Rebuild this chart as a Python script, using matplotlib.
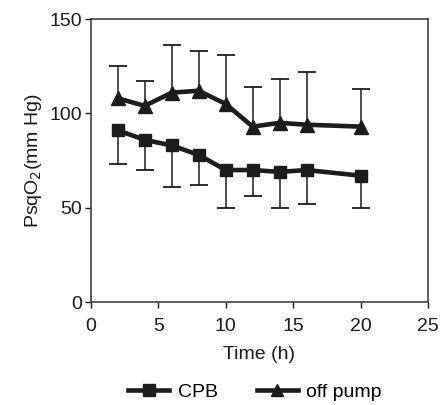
import matplotlib
matplotlib.use("Agg")
import matplotlib.pyplot as plt
from matplotlib.lines import Line2D

plt.rcParams["font.family"] = ["Liberation Sans", "DejaVu Sans"]

# time points (h)
time_h = [2, 4, 6, 8, 10, 12, 14, 16, 20]

# CPB: mean and lower end of error bar
cpb_mean = [91, 86, 83, 78, 70, 70, 69, 70, 67]
cpb_low = [73, 70, 61, 62, 50, 56, 50, 52, 50]

# off pump: mean and upper end of error bar
off_mean = [108, 104, 111, 112, 105, 93, 95, 94, 93]
off_high = [125, 117, 136, 133, 131, 114, 118, 122, 113]

x_ticks = [0, 5, 10, 15, 20, 25]
y_ticks = [0, 50, 100, 150]

ink = "#1c1c1c"
fs = 14

fig = plt.figure(figsize=(4.43, 4.05), dpi=100)
ax = fig.add_axes([0.205, 0.254, 0.761, 0.699])

# one-sided error bars: down for CPB, up for off pump
ax.vlines(time_h, cpb_low, cpb_mean, color=ink, lw=1.1, zorder=2)
ax.plot(time_h, cpb_low, ls="none", marker="_", ms=13, mew=1.3, color=ink, zorder=2)
ax.vlines(time_h, off_mean, off_high, color=ink, lw=1.1, zorder=2)
ax.plot(time_h, off_high, ls="none", marker="_", ms=13, mew=1.3, color=ink, zorder=2)

ax.plot(time_h, cpb_mean, color=ink, lw=3.3, marker="s", ms=9, zorder=3)
ax.plot(time_h, off_mean, color=ink, lw=3.3, marker="^", ms=10, zorder=3)

ax.set_xlim(0, 25)
ax.set_ylim(0, 150)
ax.set_xticks(x_ticks)
ax.set_yticks(y_ticks)
ax.tick_params(direction="out", length=4.5, width=1, labelsize=fs,
               colors=ink)
ax.tick_params(axis="x", pad=7)
ax.tick_params(axis="y", pad=2)
for s in ax.spines.values():
    s.set_color("#333333")
    s.set_linewidth(1.1)

ax.set_xlabel("Time (h)", fontsize=fs, color=ink, labelpad=8)
ax.set_ylabel("PsqO$_2$(mm Hg)", fontsize=fs, color=ink, labelpad=4)

handles = [
    Line2D([], [], color=ink, lw=3.3, marker="s", ms=8),
    Line2D([], [], color=ink, lw=3.3, marker="^", ms=8),
]
fig.legend(handles, ["CPB", "off pump"], loc="center",
           bbox_to_anchor=(0.576, 0.031), ncol=2, frameon=False,
           fontsize=fs, handlelength=2.1, columnspacing=2.0,
           handletextpad=0.45, borderpad=0)

fig.savefig("out.png", dpi=100)
